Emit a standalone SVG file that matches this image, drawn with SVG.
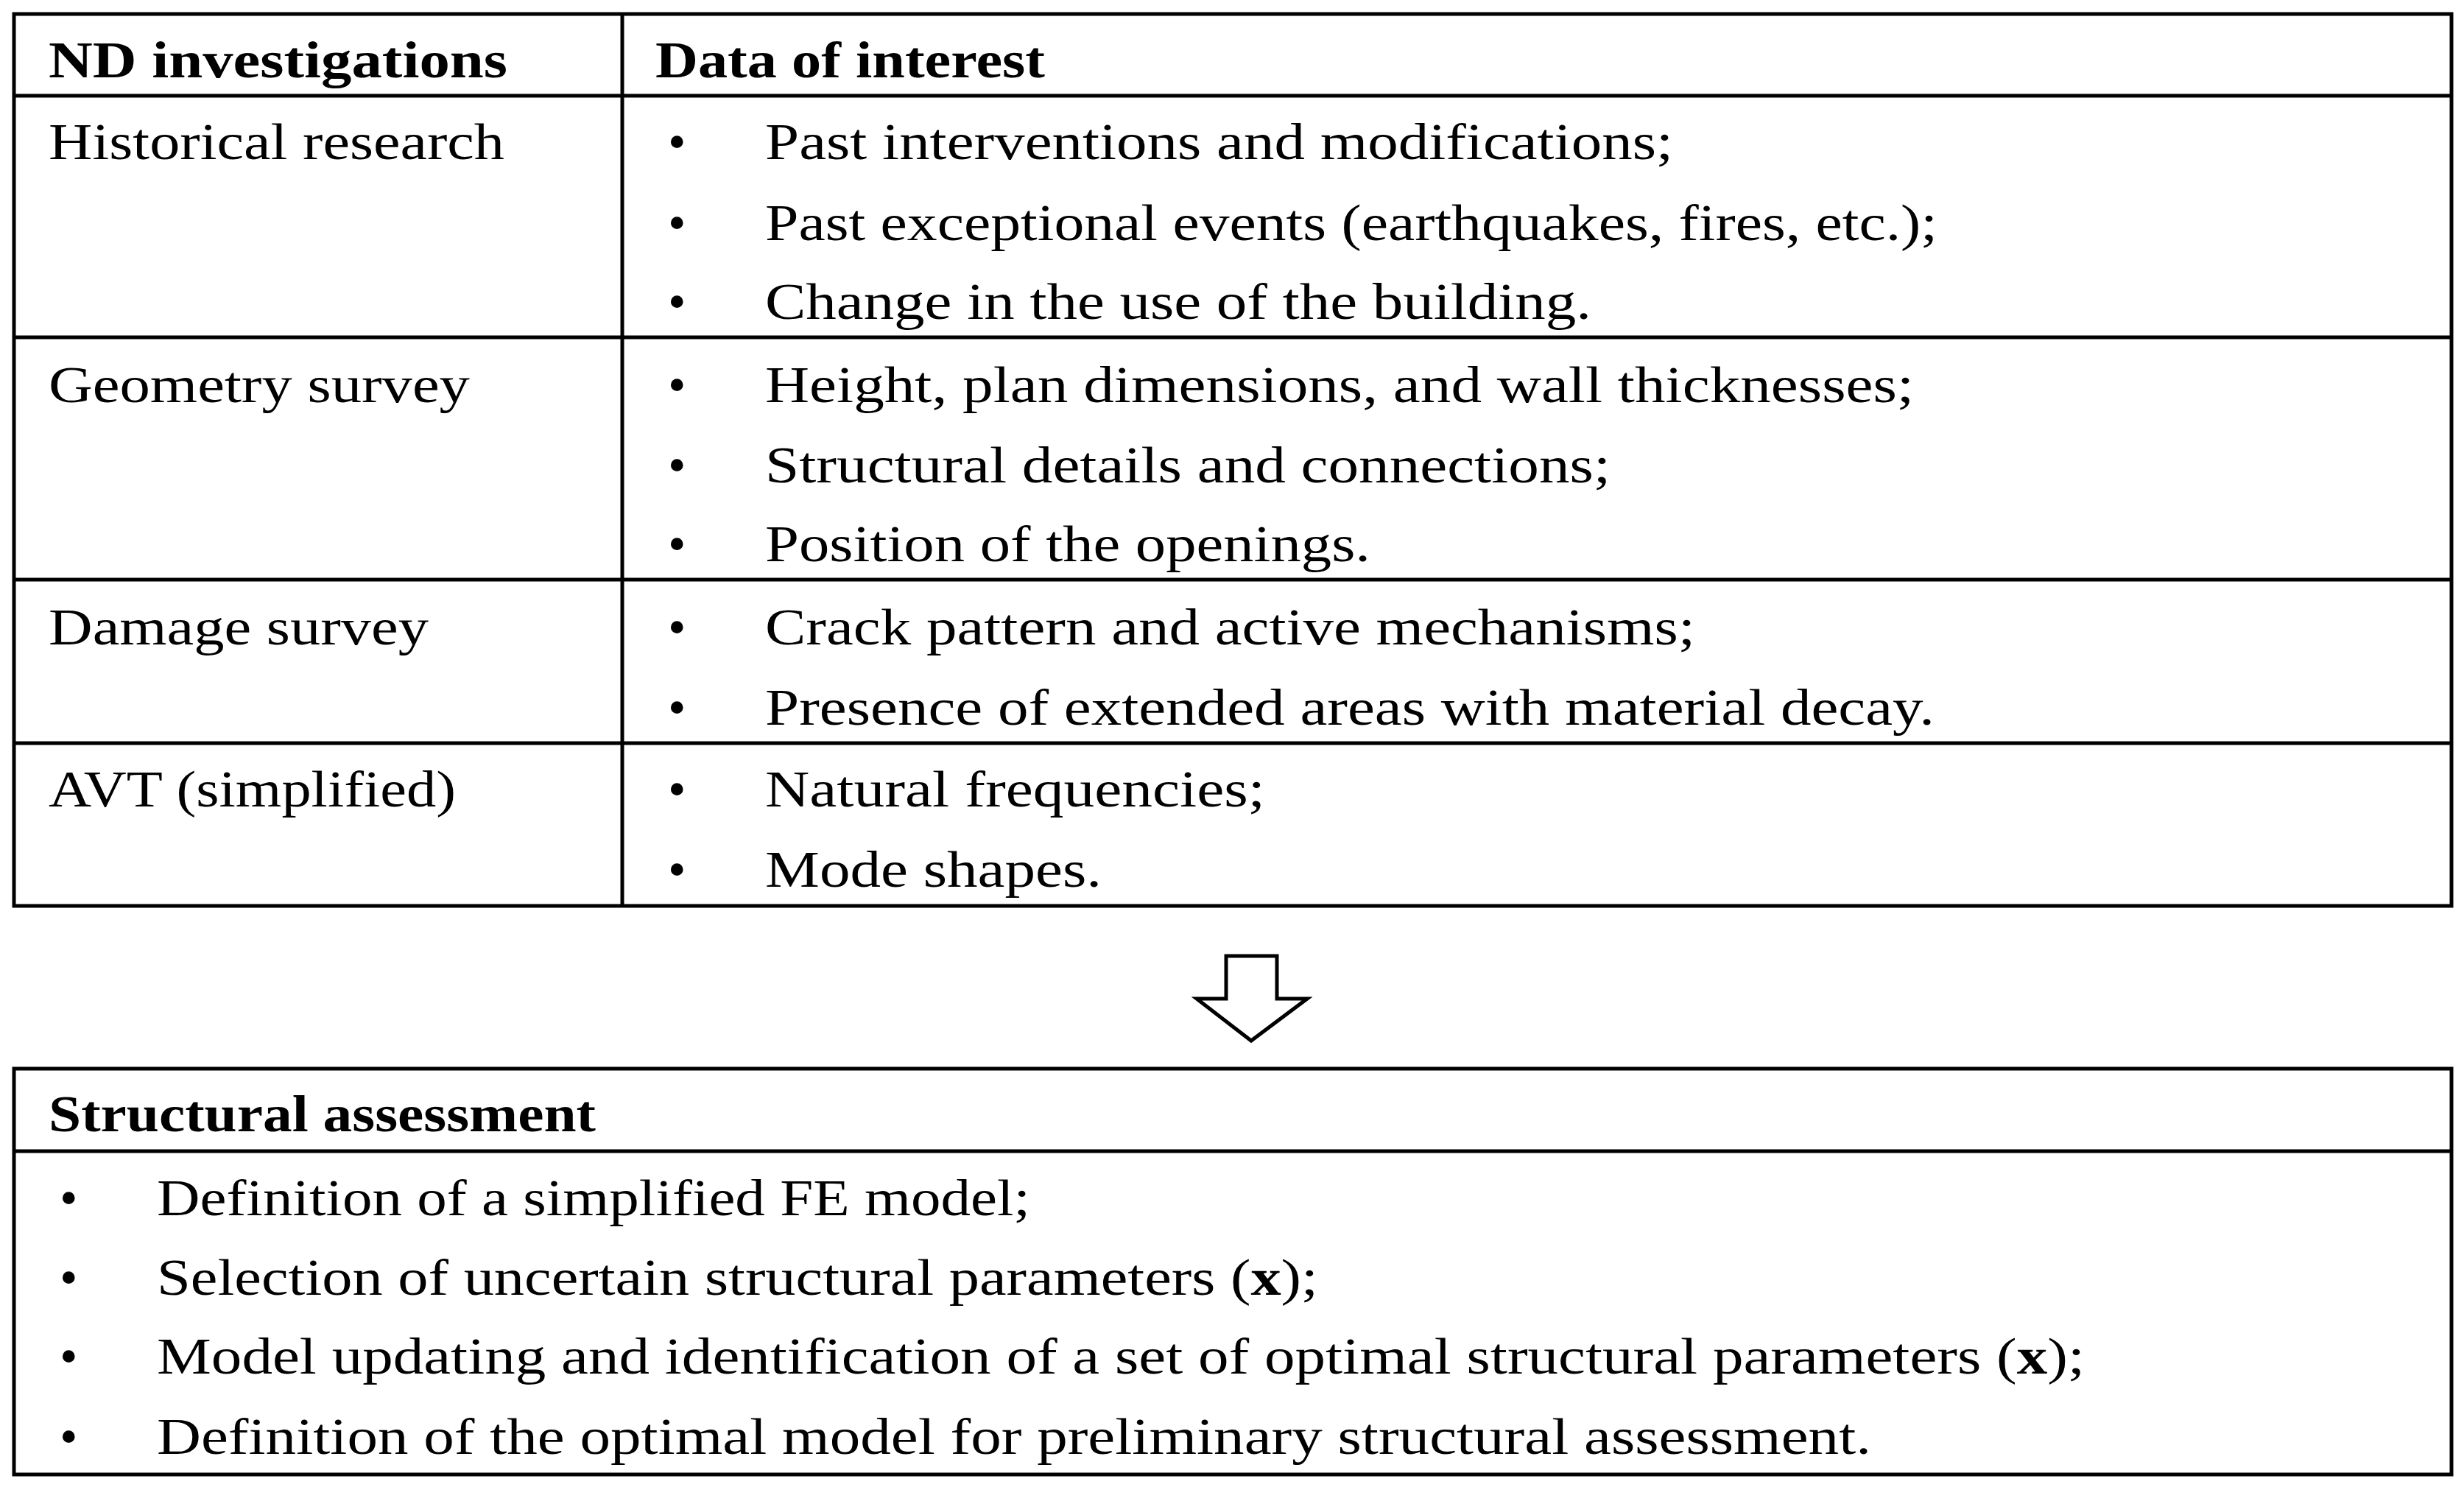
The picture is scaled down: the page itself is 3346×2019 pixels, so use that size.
<svg xmlns="http://www.w3.org/2000/svg" width="3346" height="2019" viewBox="0 0 3346 2019">
<style>
text{font-family:"Liberation Serif","DejaVu Serif",serif;font-size:70px;fill:#000}
.b{font-weight:bold}
.ln{stroke:#000;stroke-width:5;fill:none}
</style>
<rect width="3346" height="2019" fill="#fff"/>
<g id="table">
<rect class="ln" x="19" y="19" width="3310" height="1211"/>
<line class="ln" x1="19" y1="130" x2="3329" y2="130"/>
<line class="ln" x1="19" y1="458" x2="3329" y2="458"/>
<line class="ln" x1="19" y1="787" x2="3329" y2="787"/>
<line class="ln" x1="19" y1="1009" x2="3329" y2="1009"/>
<line class="ln" x1="845" y1="19" x2="845" y2="1230"/>
<text class="b" x="66" y="105" textLength="623" lengthAdjust="spacingAndGlyphs">ND investigations</text>
<text class="b" x="890" y="105" textLength="529" lengthAdjust="spacingAndGlyphs">Data of interest</text>
<text x="66" y="216" textLength="619" lengthAdjust="spacingAndGlyphs">Historical research</text>
<text x="907" y="216">•</text><text x="1039" y="216" textLength="1233" lengthAdjust="spacingAndGlyphs">Past interventions and modifications;</text>
<text x="907" y="326">•</text><text x="1039" y="326" textLength="1592" lengthAdjust="spacingAndGlyphs">Past exceptional events (earthquakes, fires, etc.);</text>
<text x="907" y="433">•</text><text x="1039" y="433" textLength="1122" lengthAdjust="spacingAndGlyphs">Change in the use of the building.</text>
<text x="66" y="546" textLength="572" lengthAdjust="spacingAndGlyphs">Geometry survey</text>
<text x="907" y="546">•</text><text x="1039" y="546" textLength="1560" lengthAdjust="spacingAndGlyphs">Height, plan dimensions, and wall thicknesses;</text>
<text x="907" y="655">•</text><text x="1039" y="655" textLength="1148" lengthAdjust="spacingAndGlyphs">Structural details and connections;</text>
<text x="907" y="762">•</text><text x="1039" y="762" textLength="822" lengthAdjust="spacingAndGlyphs">Position of the openings.</text>
<text x="66" y="875" textLength="516" lengthAdjust="spacingAndGlyphs">Damage survey</text>
<text x="907" y="875">•</text><text x="1039" y="875" textLength="1263" lengthAdjust="spacingAndGlyphs">Crack pattern and active mechanisms;</text>
<text x="907" y="984">•</text><text x="1039" y="984" textLength="1588" lengthAdjust="spacingAndGlyphs">Presence of extended areas with material decay.</text>
<text x="66" y="1095" textLength="553" lengthAdjust="spacingAndGlyphs">AVT (simplified)</text>
<text x="907" y="1095">•</text><text x="1039" y="1095" textLength="679" lengthAdjust="spacingAndGlyphs">Natural frequencies;</text>
<text x="907" y="1204">•</text><text x="1039" y="1204" textLength="457" lengthAdjust="spacingAndGlyphs">Mode shapes.</text>
</g>
<g id="connectors">
<polygon class="ln" points="1665,1298 1734,1298 1734,1356 1775,1356 1699,1413 1625,1356 1665,1356"/>
</g>
<g id="assessment">
<rect class="ln" x="19" y="1451" width="3310" height="551"/>
<line class="ln" x1="19" y1="1563" x2="3329" y2="1563"/>
<text class="b" x="66" y="1536" textLength="743" lengthAdjust="spacingAndGlyphs">Structural assessment</text>
<text x="81" y="1650">•</text><text x="213" y="1650" textLength="1186" lengthAdjust="spacingAndGlyphs">Definition of a simplified FE model;</text>
<text x="81" y="1758">•</text><text x="213" y="1758" textLength="1577" lengthAdjust="spacingAndGlyphs">Selection of uncertain structural parameters (<tspan class="b">x</tspan>);</text>
<text x="81" y="1865">•</text><text x="213" y="1865" textLength="2618" lengthAdjust="spacingAndGlyphs">Model updating and identification of a set of optimal structural parameters (<tspan class="b">x</tspan>);</text>
<text x="81" y="1974">•</text><text x="213" y="1974" textLength="2328" lengthAdjust="spacingAndGlyphs">Definition of the optimal model for preliminary structural assessment.</text>
</g>
</svg>
